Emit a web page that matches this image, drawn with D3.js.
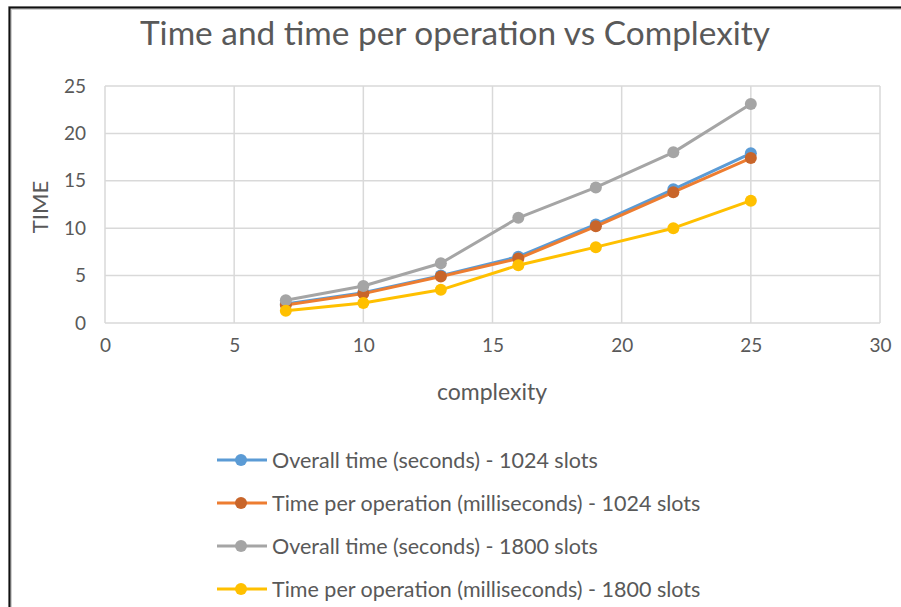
<!DOCTYPE html>
<html>
<head>
<meta charset="utf-8">
<script src="https://cdn.jsdelivr.net/npm/d3@7"></script>
<style>
  html, body { margin: 0; padding: 0; background: #fff; }
  svg { display: block; font-family: Lato, "Open Sans", sans-serif; }
</style>
</head>
<body>
<svg id="chart" width="901" height="607"></svg>
<script>
// Complexity levels measured
const complexity = [7, 10, 13, 16, 19, 22, 25];

// Timings per configuration
const overall1024 = [2.0, 3.2, 5.0, 7.0, 10.4, 14.1, 17.9];
const perOp1024   = [1.9, 3.1, 4.9, 6.8, 10.2, 13.8, 17.4];
const overall1800 = [2.4, 3.9, 6.3, 11.1, 14.3, 18.0, 23.1];
const perOp1800   = [1.3, 2.1, 3.5, 6.1, 8.0, 10.0, 12.9];

const seriesNames = [
  "Overall time (seconds) - 1024 slots",
  "Time per operation (milliseconds) - 1024 slots",
  "Overall time (seconds) - 1800 slots",
  "Time per operation (milliseconds) - 1800 slots"
];
const lineColors   = ["#5B9BD5", "#ED7D31", "#A5A5A5", "#FFC000"];
const markerColors = ["#5B9BD5", "#C8652A", "#A5A5A5", "#FFC000"];

const xTicks = [0, 5, 10, 15, 20, 25, 30];
const yTicks = [0, 5, 10, 15, 20, 25];

const seriesValues = [overall1024, perOp1024, overall1800, perOp1800];

const svg = d3.select("#chart");

// Outer frame (top and left edges)
svg.append("path")
  .attr("d", "M10,608 L10,8 L902,8")
  .attr("fill", "none").attr("stroke", "#d0d0d0").attr("stroke-width", 4);
svg.append("path")
  .attr("d", "M9.5,608 L9.5,7.5 L902,7.5")
  .attr("fill", "none").attr("stroke", "#111").attr("stroke-width", 2);

// Title
svg.append("text")
  .attr("x", 455).attr("y", 45)
  .attr("text-anchor", "middle")
  .attr("font-size", 32).attr("fill", "#595959")
  .attr("textLength", 630).attr("lengthAdjust", "spacingAndGlyphs")
  .text("Time and time per operation vs Complexity");

const x = d3.scaleLinear().domain([0, 30]).range([105, 880]);
const y = d3.scaleLinear().domain([0, 25]).range([323, 86]);

// Gridlines
const grid = svg.append("g").attr("stroke", "#D9D9D9").attr("stroke-width", 1.5);
grid.selectAll("line.v").data(xTicks).join("line")
  .attr("x1", d => x(d)).attr("x2", d => x(d))
  .attr("y1", y(0)).attr("y2", y(25));
grid.selectAll("line.h").data(yTicks).join("line")
  .attr("x1", x(0)).attr("x2", x(30))
  .attr("y1", d => y(d)).attr("y2", d => y(d));

// Axes (labels only, gridlines drawn above)
const xAxis = svg.append("g")
  .attr("transform", `translate(0,${y(0)})`)
  .call(d3.axisBottom(x).tickValues(xTicks).tickSize(0).tickPadding(12));
const yAxis = svg.append("g")
  .attr("transform", `translate(${x(0)},0)`)
  .call(d3.axisLeft(y).tickValues(yTicks).tickSize(0).tickPadding(19));
[xAxis, yAxis].forEach(a => {
  a.select(".domain").remove();
  a.selectAll("text").attr("font-size", 19).attr("fill", "#595959")
    .attr("font-family", "Lato, 'Open Sans', sans-serif");
});
xAxis.selectAll("text").attr("dy", "0.9em");

// Axis titles
svg.append("text")
  .attr("x", 492).attr("y", 400)
  .attr("text-anchor", "middle")
  .attr("font-size", 23).attr("fill", "#595959")
  .text("complexity");
svg.append("text")
  .attr("transform", "translate(48,207) rotate(-90)")
  .attr("text-anchor", "middle")
  .attr("font-size", 22).attr("fill", "#595959")
  .text("TIME");

// Series lines and markers
const line = d3.line().x(d => x(d[0])).y(d => y(d[1]));
seriesValues.forEach((vals, i) => {
  const pts = complexity.map((c, j) => [c, vals[j]]);
  const g = svg.append("g");
  g.append("path").datum(pts)
    .attr("d", line).attr("fill", "none")
    .attr("stroke", lineColors[i]).attr("stroke-width", 3)
    .attr("stroke-linejoin", "round");
  g.selectAll("circle").data(pts).join("circle")
    .attr("cx", d => x(d[0])).attr("cy", d => y(d[1]))
    .attr("r", 6).attr("fill", markerColors[i]);
});

// Legend
const legend = svg.append("g");
seriesNames.forEach((name, i) => {
  const ly = 460 + i * 43;
  legend.append("line")
    .attr("x1", 217).attr("x2", 267).attr("y1", ly).attr("y2", ly)
    .attr("stroke", lineColors[i]).attr("stroke-width", 3);
  legend.append("circle")
    .attr("cx", 241).attr("cy", ly).attr("r", 6).attr("fill", markerColors[i]);
  legend.append("text")
    .attr("x", 272).attr("y", ly).attr("dy", "0.35em")
    .attr("font-size", 21.5).attr("fill", "#595959")
    .text(name);
});
</script>
</body>
</html>
